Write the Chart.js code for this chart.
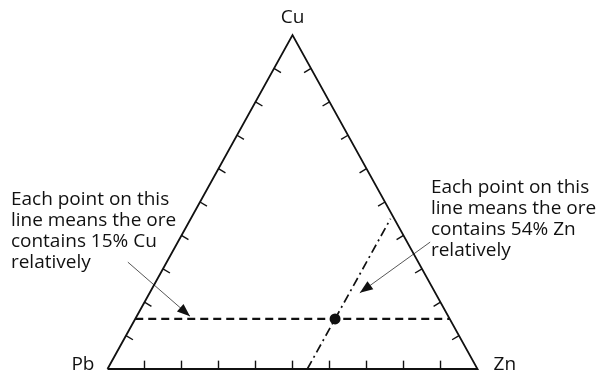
<!DOCTYPE html>
<html>

<head>
    <title>Ternary diagram Cu-Pb-Zn</title>
    <style>
        body { margin: 0; background: #fff; }
        #wrap { width: 600px; height: 376px; }
    </style>
</head>

<body>
    <div id="wrap"><canvas id="myChart"></canvas></div>
    <script src="https://cdn.jsdelivr.net/npm/chart.js@4"></script>

    <script type="text/javascript">
        // ternary values in percent
        const vertexNames = ['Pb', 'Zn', 'Cu'];
        const tickValues = [10, 20, 30, 40, 50, 60, 70, 80, 90];
        const tickLen = 2.5;
        const cuLevel = 15;
        const znLevel = 54;
        const znLineCuMax = 45;
        const sample = { cu: 15, zn: 54 };
        const noteLeft = ['Each point on this', 'line means the ore', 'contains 15% Cu', 'relatively'];
        const noteRight = ['Each point on this', 'line means the ore', 'contains 54% Zn', 'relatively'];
        // annotation anchors / arrows in plot units (x = Zn + Cu/2, y = Cu)
        const noteLeftAt = [-26.1, 50.6];
        const noteRightAt = [87.4, 54.2];
        const arrowLeft = [[5.5, 32.0], [22.3, 15.8]];
        const arrowRight = [[87.2, 38.0], [68.2, 22.8]];

        function tern(cu, zn) {
            return { x: zn + cu / 2, y: cu };
        }

        const ink = '#111';
        let datasets = [];

        // triangle outline
        datasets.push({
            data: [tern(0, 0), tern(0, 100), tern(100, 0), tern(0, 0)],
            borderColor: ink, borderWidth: 1.8, borderJoinStyle: 'miter'
        });

        // ticks, perpendicular into the triangle
        tickValues.forEach(t => {
            // bottom edge (Cu = 0)
            datasets.push({ data: [tern(0, t), tern(tickLen, t - tickLen / 2)], borderColor: ink, borderWidth: 1.4 });
            // left edge (Zn = 0)
            datasets.push({ data: [tern(t, 0), tern(t - tickLen / 2, tickLen)], borderColor: ink, borderWidth: 1.4 });
            // right edge (Pb = 0)
            datasets.push({ data: [tern(t, 100 - t), tern(t - tickLen / 2, 100 - t - tickLen / 2)], borderColor: ink, borderWidth: 1.4 });
        });

        // Cu = 15% line
        datasets.push({
            data: [tern(cuLevel, 0), tern(cuLevel, 100 - cuLevel)],
            borderColor: ink, borderWidth: 2.2, borderDash: [8, 5]
        });

        // Zn = 54% line
        datasets.push({
            data: [tern(0, znLevel), tern(znLineCuMax, znLevel)],
            borderColor: ink, borderWidth: 1.7, borderDash: [9, 4, 2, 4]
        });

        // arrows
        [arrowLeft, arrowRight].forEach(a => {
            datasets.push({
                data: a.map(p => ({ x: p[0], y: p[1] })),
                borderColor: '#444', borderWidth: 0.9, arrow: true
            });
        });

        // the sample point
        datasets.push({
            data: [tern(sample.cu, sample.zn)],
            showLine: false, pointRadius: 5.5, backgroundColor: ink, borderWidth: 0
        });

        datasets.forEach(d => {
            if (d.showLine === undefined) d.showLine = true;
            if (d.pointRadius === undefined) d.pointRadius = 0;
            d.fill = false;
        });

        const labelsPlugin = {
            id: 'labels',
            afterDatasetsDraw(chart) {
                const ctx = chart.ctx;
                const sx = chart.scales.x, sy = chart.scales.y;
                ctx.save();
                // arrow heads
                chart.data.datasets.forEach((d, i) => {
                    if (!d.arrow) return;
                    const pts = chart.getDatasetMeta(i).data;
                    const a = pts[0], b = pts[1];
                    const ang = Math.atan2(b.y - a.y, b.x - a.x);
                    const L = 13, W = 5;
                    ctx.fillStyle = ink;
                    ctx.beginPath();
                    ctx.moveTo(b.x, b.y);
                    ctx.lineTo(b.x - L * Math.cos(ang) - W * Math.sin(ang), b.y - L * Math.sin(ang) + W * Math.cos(ang));
                    ctx.lineTo(b.x - L * Math.cos(ang) + W * Math.sin(ang), b.y - L * Math.sin(ang) - W * Math.cos(ang));
                    ctx.closePath();
                    ctx.fill();
                });

                ctx.fillStyle = ink;
                ctx.textBaseline = 'middle';
                ctx.font = '19px "Open Sans"';
                // vertex names
                const pb = tern(0, 0), zn = tern(0, 100), cu = tern(100, 0);
                ctx.textAlign = 'right';
                ctx.fillText(vertexNames[0], sx.getPixelForValue(pb.x) - 13, sy.getPixelForValue(pb.y) - 4);
                ctx.textAlign = 'left';
                ctx.fillText(vertexNames[1], sx.getPixelForValue(zn.x) + 16, sy.getPixelForValue(zn.y) - 4);
                ctx.textAlign = 'center';
                ctx.fillText(vertexNames[2], sx.getPixelForValue(cu.x), sy.getPixelForValue(cu.y) - 17);

                // notes
                ctx.font = '19px "Open Sans"';
                ctx.textAlign = 'left';
                [[noteLeft, noteLeftAt], [noteRight, noteRightAt]].forEach(([lines, at]) => {
                    const x0 = sx.getPixelForValue(at[0]);
                    const y0 = sy.getPixelForValue(at[1]);
                    lines.forEach((s, k) => ctx.fillText(s, x0, y0 + k * 20.8));
                });
                ctx.restore();
            }
        };

        const ctx = document.getElementById('myChart').getContext('2d');
        const chart = new Chart(ctx, {
            type: 'scatter',
            data: { datasets: datasets },
            options: {
                responsive: true,
                maintainAspectRatio: false,
                animation: false,
                layout: { padding: 0, autoPadding: false },
                plugins: { legend: { display: false }, tooltip: { enabled: false } },
                scales: {
                    x: { type: 'linear', display: false, min: -29.05, max: 133.1 },
                    y: { type: 'linear', display: false, min: -2.1, max: 110.5 }
                }
            },
            plugins: [labelsPlugin]
        });
    </script>
</body>

</html>
